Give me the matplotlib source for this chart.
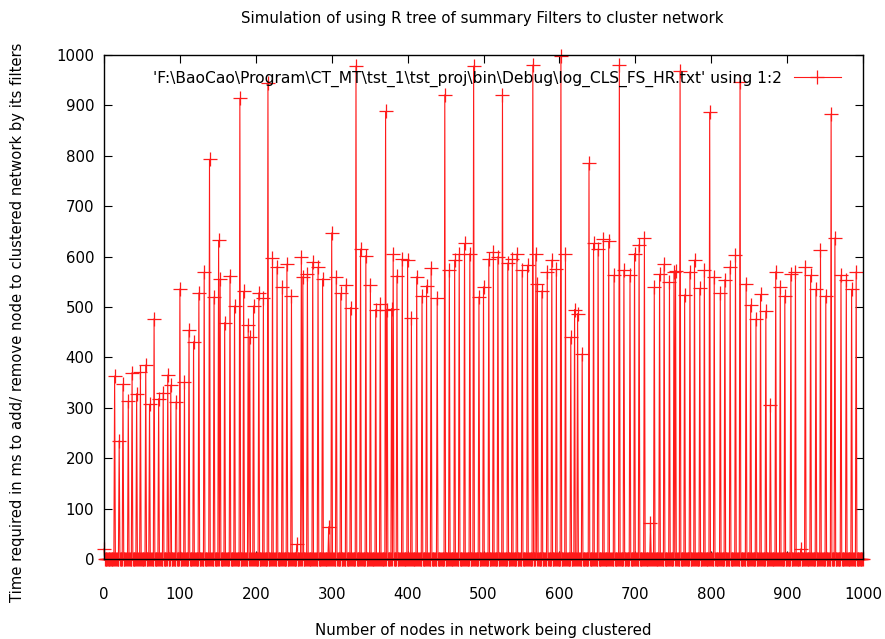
import numpy as np
import matplotlib
matplotlib.use("Agg")
import matplotlib.pyplot as plt

title = "Simulation of using R tree of summary Filters to cluster network"
xlabel = "Number of nodes in network being clustered"
ylabel = "Time required in ms to add/ remove node to clustered network by its filters"
legend_label = "'F:\\BaoCao\\Program\\CT_MT\\tst_1\\tst_proj\\bin\\Debug\\log_CLS_FS_HR.txt' using 1:2"

n_nodes = 1000
start_value = 20

spike_x = [14, 20, 25, 32, 37, 43, 48, 55, 60, 66, 72, 78, 84, 88, 95, 100, 106, 112, 118, 125,
           132, 139, 145, 151, 153, 159, 166, 172, 179, 184, 190, 192, 197, 204, 210, 216, 222, 228, 235, 241,
           247, 254, 260, 262, 268, 275, 282, 288, 296, 300, 306, 312, 319, 325, 332, 338, 345, 351, 358, 364,
           371, 373, 379, 381, 386, 393, 400, 405, 412, 419, 425, 431, 439, 449, 455, 462, 468, 475, 482, 487,
           494, 500, 507, 513, 519, 525, 532, 538, 544, 551, 558, 565, 569, 571, 577, 584, 590, 596, 602, 608,
           615, 620, 624, 630, 639, 645, 651, 658, 665, 672, 679, 685, 693, 699, 705, 712, 720, 725, 732, 738,
           745, 751, 753, 759, 765, 772, 778, 785, 791, 798, 804, 812, 818, 825, 832, 838, 846, 852, 859, 865,
           872, 878, 885, 891, 897, 905, 911, 918, 924, 931, 938, 944, 951, 958, 963, 971, 978, 985, 991]
spike_y = [363, 235, 347, 313, 370, 328, 371, 385, 307, 477, 318, 330, 365, 345, 312, 536, 351, 454, 431, 528,
           569, 793, 520, 632, 555, 469, 562, 502, 914, 531, 464, 441, 502, 528, 518, 945, 597, 580, 540, 585,
           522, 29, 599, 560, 565, 589, 579, 556, 64, 647, 559, 527, 544, 499, 978, 615, 602, 544, 495, 505,
           888, 495, 497, 605, 562, 595, 593, 478, 560, 522, 542, 577, 518, 921, 573, 593, 605, 626, 606, 978,
           520, 540, 595, 610, 600, 921, 587, 595, 605, 573, 583, 980, 605, 546, 532, 570, 593, 575, 998, 606,
           440, 495, 487, 407, 785, 626, 615, 634, 630, 563, 980, 573, 563, 606, 624, 636, 71, 539, 565, 585,
           550, 570, 572, 968, 524, 570, 593, 537, 573, 886, 560, 527, 554, 580, 603, 947, 546, 504, 476, 525,
           492, 306, 570, 540, 522, 565, 570, 20, 579, 563, 535, 613, 522, 883, 637, 563, 554, 535, 570]

x = np.arange(n_nodes + 1)
y = np.zeros(n_nodes + 1)
y[0] = start_value
y[np.array(spike_x)] = spike_y

W, H = 885, 639
fig = plt.figure(figsize=(W / 100, H / 100), dpi=100)
ax = fig.add_axes([104 / W, 1 - 559 / H, (863 - 104) / W, (559 - 55) / H])

ax.plot(x, y, color="#ff1a1a", linewidth=0.8, marker="+", markersize=9.5,
        markeredgewidth=0.9, clip_on=False, label=legend_label, zorder=3)

ax.set_xlim(0, 1000)
ax.set_ylim(0, 1000)
ax.set_xticks(np.arange(0, 1001, 100))
ax.set_yticks(np.arange(0, 1001, 100))
ax.tick_params(direction="in", length=6, width=0.8, top=True, right=True,
               labelsize=10.8, colors="black")
ax.tick_params(axis="y", pad=7)
ax.tick_params(axis="x", pad=20)
for s in ax.spines.values():
    s.set_linewidth(1.0)
    s.set_color("black")
    s.set_zorder(4)

fig.text(482 / W, 1 - 18 / H, title, ha="center", va="center", fontsize=10.8)
fig.text(483 / W, 1 - 630 / H, xlabel, ha="center", va="center", fontsize=10.8)
fig.text(18 / W, 1 - 322 / H, ylabel, ha="center", va="center", rotation=90, fontsize=10.6)

leg = ax.legend(loc="upper right", frameon=False, markerfirst=False, fontsize=11.2,
                handlelength=3.0, handletextpad=0.8, borderaxespad=0.3,
                bbox_to_anchor=(0.985, 0.99))

fig.savefig("out.png", dpi=100, facecolor="white")
